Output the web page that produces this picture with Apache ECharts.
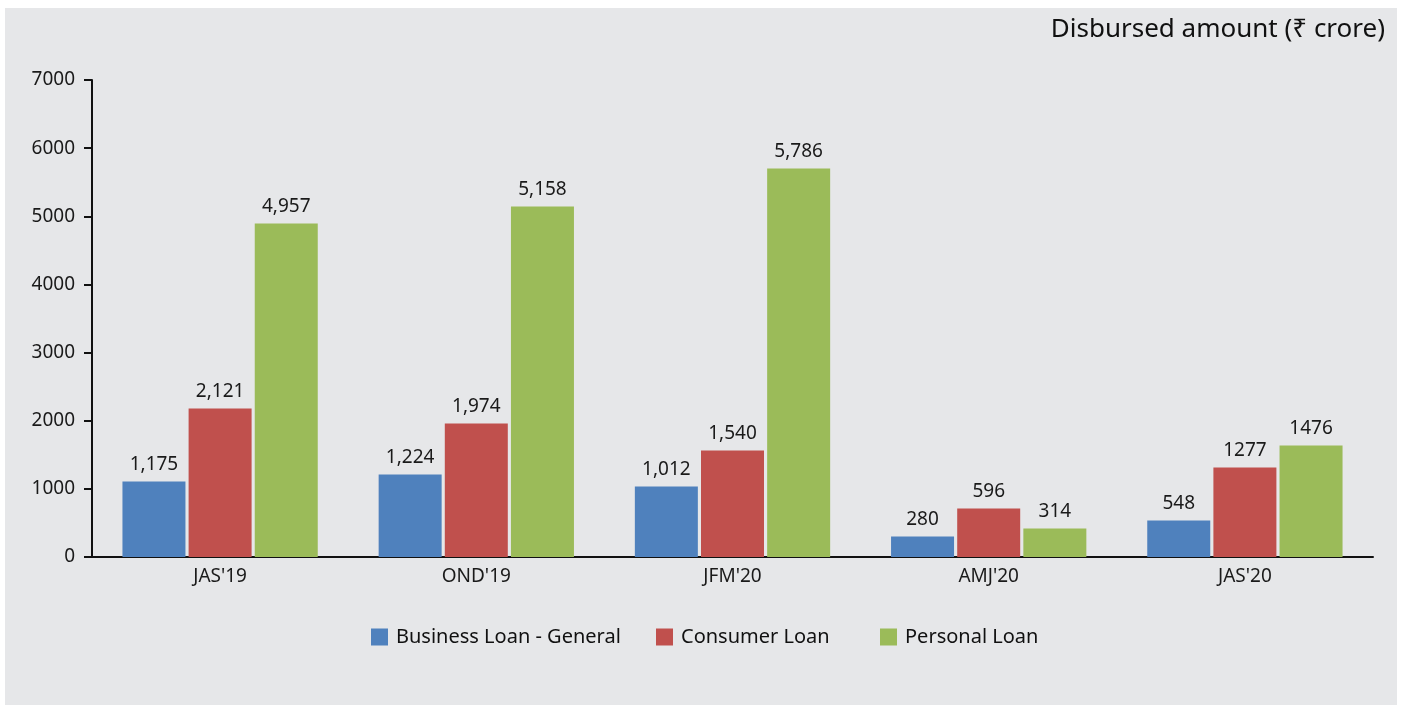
<!DOCTYPE html>
<html>
<head>
<meta charset="utf-8">
<script src="https://cdn.jsdelivr.net/npm/echarts@6/dist/echarts.min.js"></script>
<style>
  html, body { margin: 0; padding: 0; background: #ffffff; }
  .panel {
    position: absolute;
    left: 5px;
    top: 8px;
    width: 1392px;
    height: 697px;
    background: #e6e7e9;
  }
  #chartLoan {
    position: absolute;
    left: 0;
    top: 0;
    width: 1403px;
    height: 707px;
  }
</style>
</head>
<body>
<div class="panel"></div>
<div id="chartLoan"></div>
<script>
// quarters
const quarters = ["JAS'19", "OND'19", "JFM'20", "AMJ'20", "JAS'20"];
const seriesNames = ['Business Loan - General', 'Consumer Loan', 'Personal Loan'];

// bar heights as drawn in the picture
const businessLoan = [1108, 1211, 1035, 301, 536];
const consumerLoan = [2179, 1959, 1563, 712, 1313];
const personalLoan = [4894, 5144, 5701, 418, 1636];

// value labels printed above the bars
const businessLabels = ['1,175', '1,224', '1,012', '280', '548'];
const consumerLabels = ['2,121', '1,974', '1,540', '596', '1277'];
const personalLabels = ['4,957', '5,158', '5,786', '314', '1476'];

const yTicks = { min: 0, max: 7000, step: 1000 };

const colors = ['#4f81bd', '#c0504d', '#9bbb59'];
const font = '"Noto Sans", "Open Sans", "DejaVu Sans", sans-serif';
const legendLeft = [366, 651, 875]; // 图例位置

const chartLoan = echarts.init(document.getElementById('chartLoan'));

function barSeries(name, data, labels, color) {
  return {
    name: name,
    type: 'bar',
    barWidth: 63,
    barGap: '5%',
    itemStyle: { color: color },
    label: {
      show: true,
      position: 'top',
      distance: 7,
      color: '#1a1a1a',
      fontSize: 19,
      fontFamily: font,
      formatter: function (p) { return labels[p.dataIndex]; } // 标签文字
    },
    data: data
  };
}

let option = {
  animation: false,
  textStyle: { fontFamily: font },
  title: {
    text: 'Disbursed amount (₹ crore)',
    right: 13,
    top: 12,
    textStyle: {
      fontSize: 26,
      fontWeight: 'normal',
      color: '#111111',
      fontFamily: font
    }
  },
  grid: {
    left: 92,
    right: 30,
    top: 80,
    bottom: 150
  },
  legend: seriesNames.map(function (name, i) {
    return {
      left: legendLeft[i],
      top: 622,
      icon: 'rect',
      itemWidth: 17,
      itemHeight: 17,
      textStyle: {
        fontSize: 20,
        color: '#111111',
        fontFamily: font,
        padding: [0, 0, 0, 3]
      },
      data: [name]
    };
  }),
  xAxis: {
    type: 'category',
    data: quarters,
    axisLine: { lineStyle: { color: '#111111', width: 2 } },
    axisTick: { length: 8, lineStyle: { color: '#111111', width: 2 } },
    axisLabel: { color: '#1a1a1a', fontSize: 19, margin: 10 }
  },
  yAxis: {
    type: 'value',
    min: yTicks.min,
    max: yTicks.max,
    interval: yTicks.step,
    axisLine: { show: true, lineStyle: { color: '#111111', width: 2 } },
    axisTick: { show: true, length: 8, lineStyle: { color: '#111111', width: 2 } },
    axisLabel: {
      color: '#1a1a1a',
      fontSize: 19,
      margin: 17,
      formatter: function (v) { return String(v); }
    },
    splitLine: { show: false }
  },
  series: [
    barSeries(seriesNames[0], businessLoan, businessLabels, colors[0]),
    barSeries(seriesNames[1], consumerLoan, consumerLabels, colors[1]),
    barSeries(seriesNames[2], personalLoan, personalLabels, colors[2])
  ]
};
chartLoan.setOption(option);
</script>
</body>
</html>
